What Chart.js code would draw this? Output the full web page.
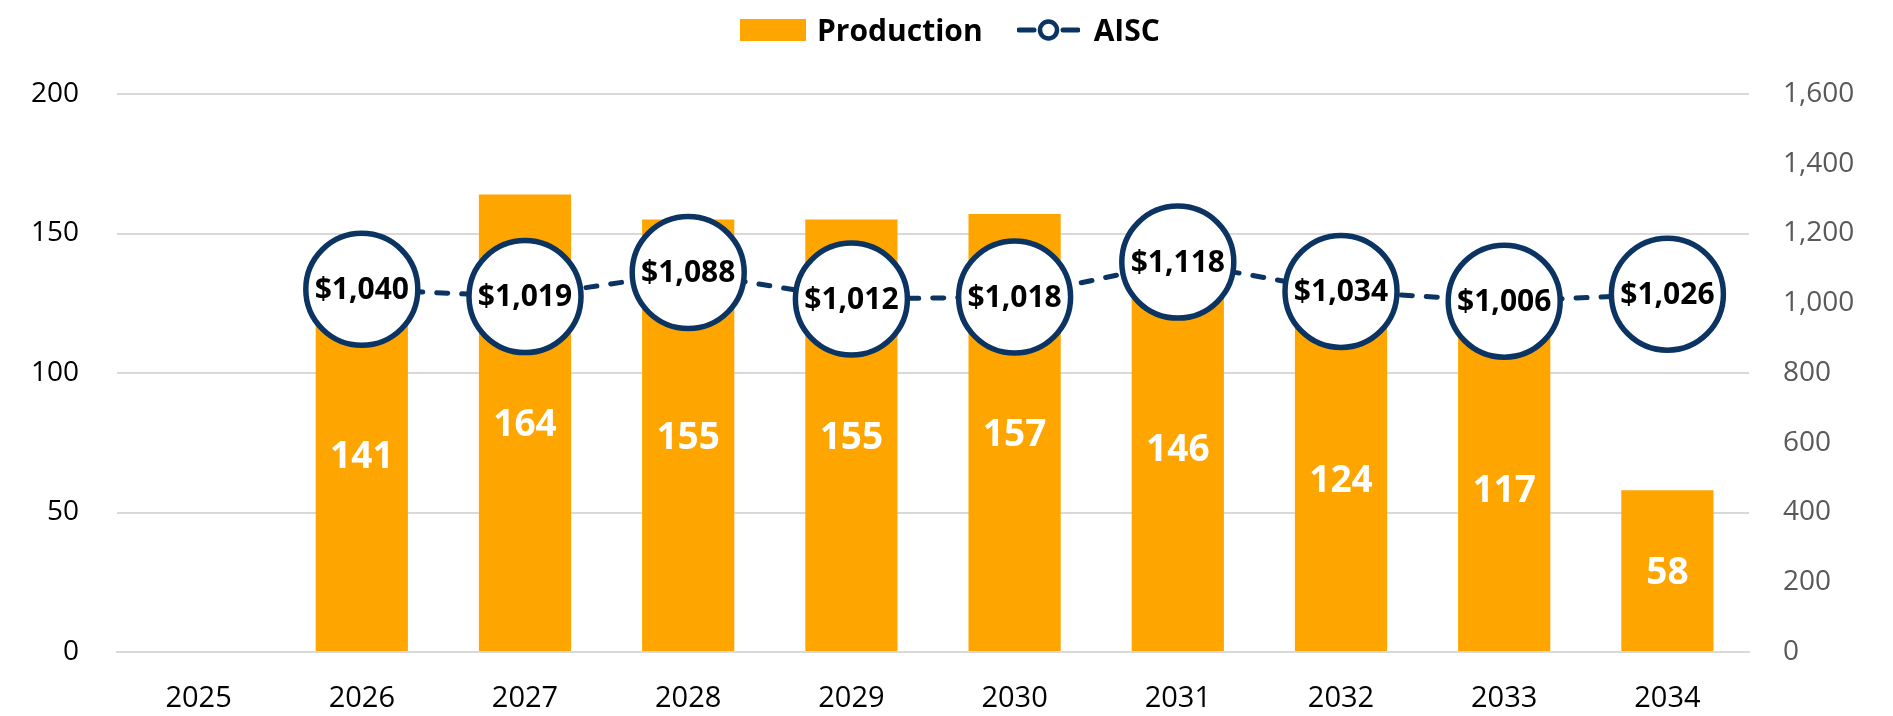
<!DOCTYPE html>
<html>
<head>
<meta charset="utf-8">
<script src="https://cdn.jsdelivr.net/npm/chart.js@4"></script>
<style>
  html, body { margin: 0; padding: 0; background: #fff; }
  #wrap { position: relative; width: 1893px; height: 716px; }
  #legend { position: absolute; top: 9px; left: 740px; display: flex; align-items: center;
            font-family: "Open Sans", "Noto Sans", sans-serif; font-weight: bold; font-size: 30px; color: #000; }
  .box { display: inline-block; width: 66px; height: 22px; background: #FFA500; margin-right: 11px; }
  .item { display: flex; align-items: center; }
  .item + .item { margin-left: 34px; }
  svg { margin-right: 14px; }
</style>
</head>
<body>
<div id="wrap">
  <canvas id="chart"></canvas>
  <div id="legend">
    <div class="item"><span class="box"></span><span>Production</span></div>
    <div class="item">
      <svg width="63" height="24" viewBox="0 0 63 24">
        <line x1="2" y1="12" x2="17" y2="12" stroke="#0B3463" stroke-width="5" stroke-linecap="round"/>
        <line x1="46" y1="12" x2="61" y2="12" stroke="#0B3463" stroke-width="5" stroke-linecap="round"/>
        <circle cx="31.5" cy="12" r="8.5" fill="#fff" stroke="#0B3463" stroke-width="4.5"/>
      </svg>
      <span>AISC</span>
    </div>
  </div>
</div>
<script>
// data
const years = ['2025', '2026', '2027', '2028', '2029', '2030', '2031', '2032', '2033', '2034'];
const production = [null, 141, 164, 155, 155, 157, 146, 124, 117, 58];
const aisc = [null, 1040, 1019, 1088, 1012, 1018, 1118, 1034, 1006, 1026];

const FONT = '"Open Sans", "Noto Sans", sans-serif';
const NAVY = '#0B3463';
const ORANGE = '#FFA500';

// value labels: white in the middle of bars, black inside the circles
const valueLabels = {
    id: 'valueLabels',
    afterDatasetsDraw(chart) {
        const ctx = chart.ctx;
        ctx.save();
        ctx.textAlign = 'center';
        ctx.textBaseline = 'middle';

        const barMeta = chart.getDatasetMeta(1);
        ctx.fillStyle = '#fff';
        ctx.font = 'bold 37px ' + FONT;
        barMeta.data.forEach((bar, i) => {
            if (production[i] == null) return;
            ctx.fillText(String(production[i]), bar.x, (bar.y + bar.base) / 2 + 3);
        });

        const lineMeta = chart.getDatasetMeta(0);
        ctx.fillStyle = '#000';
        ctx.font = 'bold 30px ' + FONT;
        lineMeta.data.forEach((pt, i) => {
            if (aisc[i] == null) return;
            ctx.fillText('$' + aisc[i].toLocaleString('en-US'), pt.x, pt.y + 1);
        });
        ctx.restore();
    }
};

const ctx = document.getElementById('chart').getContext('2d');
const chart = new Chart(ctx, {
    type: 'bar',
    data: {
        labels: years,
        datasets: [{
            type: 'line',
            label: 'AISC',
            data: aisc,
            yAxisID: 'y1',
            order: 0,
            borderColor: NAVY,
            borderWidth: 5,
            borderDash: [11, 14],
            borderCapStyle: 'round',
            pointRadius: 56,
            pointHoverRadius: 56,
            pointBorderWidth: 5.5,
            pointBackgroundColor: '#fff',
            pointBorderColor: NAVY,
            tension: 0,
        }, {
            type: 'bar',
            label: 'Production',
            data: production,
            yAxisID: 'y',
            order: 1,
            backgroundColor: ORANGE,
            barPercentage: 0.565,
            categoryPercentage: 1,
        }],
    },
    options: {
        responsive: true,
        maintainAspectRatio: false,
        animation: false,
        layout: { padding: { top: 94, left: 0, right: 0, bottom: 0 } },
        plugins: {
            legend: { display: false },
            tooltip: { enabled: false },
        },
        scales: {
            x: {
                grid: { display: false, drawTicks: false },
                border: { display: true, color: '#d9d9d9', width: 2 },
                ticks: { color: '#000', font: { family: FONT, size: 29 }, padding: 29 },
                afterFit(scale) { scale.height = 64; },
            },
            y: {
                position: 'left',
                min: 0,
                max: 200,
                ticks: { stepSize: 50, color: '#000', font: { family: FONT, size: 28 }, padding: 38 },
                grid: { color: '#d9d9d9', lineWidth: 2, drawTicks: false },
                border: { display: false },
                afterFit(scale) { scale.width = 117; },
            },
            y1: {
                position: 'right',
                min: 0,
                max: 1600,
                ticks: {
                    stepSize: 200,
                    color: '#595959',
                    font: { family: FONT, size: 28 },
                    padding: 34,
                    callback: v => v.toLocaleString('en-US'),
                },
                grid: { display: false, drawTicks: false },
                border: { display: false },
                afterFit(scale) { scale.width = 144; },
            },
        },
    },
    plugins: [valueLabels],
});
</script>
</body>
</html>
